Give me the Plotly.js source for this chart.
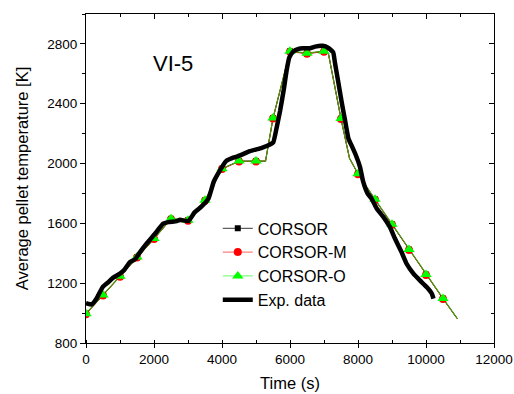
<!DOCTYPE html>
<html>
<head>
<meta charset="utf-8">
<script src="https://cdn.plot.ly/plotly-3.0.1.min.js"></script>
<style>html,body{margin:0;padding:0;background:#fff;}#chart{width:514px;height:394px;}</style>
</head>
<body>
<div id="chart"></div>
<script>
// ---- data ----
// simulation marker times (s)
const simMarkTime = [0, 500, 1000, 1500, 2000, 2500, 3000, 3500, 4000, 4500, 5000,
  5500, 6000, 6500, 7000, 7500, 8000, 8500, 9000, 9500, 10000, 10500];
// simulated pellet temperature (K) at marker times
const corsorK  = [995, 1120, 1245, 1374, 1497, 1630, 1620, 1753, 1965, 2016, 2016,
  2303, 2750, 2737, 2750, 2300, 1931, 1760, 1593, 1424, 1257, 1097];
const corsorMK = [993, 1118, 1243, 1372, 1495, 1628, 1618, 1751, 1963, 2014, 2014,
  2301, 2748, 2735, 2748, 2298, 1929, 1758, 1591, 1422, 1255, 1095];
const corsorOK = [996, 1121, 1246, 1375, 1498, 1631, 1621, 1754, 1966, 2017, 2017,
  2304, 2751, 2738, 2751, 2301, 1932, 1761, 1594, 1425, 1258, 1098];
// extra line vertices of the simulations (no marker drawn there)
const simExtraTime = [5280, 7130, 7750, 10920];
const simExtraK    = [2016, 2735, 2035, 963];

// experimental data
const expTime = [0, 170, 310, 490, 660, 800, 1000, 1130, 1290, 1440, 1590, 1780, 2030,
  2270, 2420, 2670, 2770, 3010, 3200, 3400, 3600, 3760, 3940, 4120, 4330, 4530, 4820,
  5170, 5410, 5510, 5610, 5710, 5820, 5900, 5980, 6100, 6250, 6390, 6590, 6740, 6960,
  7130, 7270, 7320, 7420, 7520, 7620, 7720, 7810, 7940, 8060, 8150, 8280, 8400, 8550,
  8750, 8940, 9090, 9280, 9430, 9630, 9820, 10020, 10170, 10220];
const expK = [1067, 1058, 1097, 1174, 1207, 1237, 1264, 1290, 1341, 1359, 1408, 1464, 1531,
  1598, 1608, 1615, 1624, 1615, 1675, 1713, 1765, 1880, 1954, 2016, 2039, 2054, 2083,
  2105, 2127, 2143, 2243, 2354, 2499, 2622, 2710, 2750, 2767, 2771, 2771, 2782, 2787,
  2773, 2744, 2677, 2544, 2410, 2288, 2166, 2121, 2054, 1976, 1880, 1800, 1765, 1700,
  1642, 1575, 1497, 1408, 1330, 1264, 1219, 1174, 1130, 1097];

const xTicks = [0, 2000, 4000, 6000, 8000, 10000, 12000];
const yTicks = [800, 1200, 1600, 2000, 2400, 2800];

// ---- build line vertex lists (markers + extra vertices, sorted by time) ----
function mergeLine(mt, mk, et, ek) {
  const pts = mt.map((t, i) => [t, mk[i]]).concat(et.map((t, i) => [t, ek[i]]));
  pts.sort((a, b) => a[0] - b[0]);
  return {x: pts.map(p => p[0]), y: pts.map(p => p[1])};
}
const lineC = mergeLine(simMarkTime, corsorK, simExtraTime, simExtraK);
const lineM = mergeLine(simMarkTime, corsorMK, simExtraTime, simExtraK);
const lineO = mergeLine(simMarkTime, corsorOK, simExtraTime, simExtraK);

const FONT = 'Arial, "Liberation Sans", sans-serif';

const traces = [
  // simulation lines
  {x: lineC.x, y: lineC.y, mode: 'lines', line: {color: '#000000', width: 1}, showlegend: false, hoverinfo: 'skip'},
  {x: lineM.x, y: lineM.y, mode: 'lines', line: {color: '#ff0000', width: 1}, showlegend: false, hoverinfo: 'skip'},
  {x: lineO.x, y: lineO.y, mode: 'lines', line: {color: '#40a010', width: 1.2}, showlegend: false, hoverinfo: 'skip'},
  // simulation markers
  {x: simMarkTime, y: corsorK, mode: 'markers', marker: {symbol: 'square', size: 6, color: '#000000'}, showlegend: false},
  {x: simMarkTime, y: corsorMK, mode: 'markers', marker: {symbol: 'circle', size: 8, color: '#ff0000'}, showlegend: false},
  {x: simMarkTime, y: corsorOK, mode: 'markers', marker: {symbol: 'triangle-up', size: 10, color: '#00ff00'}, showlegend: false},
  // experiment
  {x: expTime, y: expK, mode: 'lines', line: {color: '#000000', width: 4.5, shape: 'spline', smoothing: 0.4}, showlegend: false},
  // legend entries
  {x: [null], y: [null], name: 'CORSOR', mode: 'lines+markers', line: {color: '#606060', width: 1.2}, marker: {symbol: 'square', size: 6, color: '#000000'}},
  {x: [null], y: [null], name: 'CORSOR-M', mode: 'lines+markers', line: {color: '#ff8080', width: 1.2}, marker: {symbol: 'circle', size: 8, color: '#ff0000'}},
  {x: [null], y: [null], name: 'CORSOR-O', mode: 'lines+markers', line: {color: '#80ff80', width: 1.2}, marker: {symbol: 'triangle-up', size: 10, color: '#00ff00'}},
  {x: [null], y: [null], name: 'Exp. data', mode: 'lines', line: {color: '#000000', width: 4.5}},
  // carrier for mirrored axes
  {x: [null], y: [null], xaxis: 'x2', yaxis: 'y2', showlegend: false, mode: 'lines'}
];

const layout = {
  width: 514, height: 394,
  margin: {l: 86, r: 20, t: 14, b: 51, pad: 0},
  paper_bgcolor: '#ffffff', plot_bgcolor: '#ffffff',
  font: {family: FONT, color: '#000000'},
  showlegend: true,
  xaxis: {
    range: [0, 12000], tickvals: xTicks, ticktext: xTicks.map(String),
    ticks: 'outside', ticklen: 4, tickwidth: 1, tickcolor: '#000',
    minor: {dtick: 1000, tick0: 0, ticks: 'inside', ticklen: 3, tickwidth: 1, tickcolor: '#000'},
    showline: true, linecolor: '#000', linewidth: 1, showgrid: false, zeroline: false,
    tickfont: {size: 13.5, family: FONT},
    title: {text: 'Time (s)', font: {size: 16.5, family: FONT}, standoff: 11}
  },
  yaxis: {
    range: [800, 3000], tickvals: yTicks, ticktext: yTicks.map(String),
    ticks: 'outside', ticklen: 5, tickwidth: 1, tickcolor: '#000',
    minor: {dtick: 200, tick0: 800, ticks: 'outside', ticklen: 3, tickwidth: 1, tickcolor: '#000'},
    showline: true, linecolor: '#000', linewidth: 1, showgrid: false, zeroline: false,
    tickfont: {size: 13.5, family: FONT},
    title: {text: 'Average pellet temperature [K]', font: {size: 16.5, family: FONT}, standoff: 14}
  },
  xaxis2: {
    overlaying: 'x', side: 'top', anchor: 'y', range: [0, 12000], tickvals: xTicks,
    showticklabels: false, ticks: 'inside', ticklen: 5, tickwidth: 1, tickcolor: '#000',
    minor: {dtick: 1000, tick0: 0, ticks: 'inside', ticklen: 3, tickwidth: 1, tickcolor: '#000'},
    showline: true, linecolor: '#000', linewidth: 1, showgrid: false, zeroline: false
  },
  yaxis2: {
    overlaying: 'y', side: 'right', anchor: 'x', range: [800, 3000], tickvals: yTicks,
    showticklabels: false, ticks: 'inside', ticklen: 5, tickwidth: 1, tickcolor: '#000',
    minor: {dtick: 200, tick0: 800, ticks: 'inside', ticklen: 3, tickwidth: 1, tickcolor: '#000'},
    showline: true, linecolor: '#000', linewidth: 1, showgrid: false, zeroline: false
  },
  legend: {
    x: 0.323, y: 0.4, xanchor: 'left', yanchor: 'top',
    bgcolor: 'rgba(0,0,0,0)', borderwidth: 0,
    font: {size: 16, family: FONT}, tracegroupgap: 0
  },
  annotations: [{
    x: 2560, y: 2668, xref: 'x', yref: 'y', text: 'VI-5', showarrow: false,
    font: {size: 22, family: FONT}, xanchor: 'center', yanchor: 'middle'
  }]
};

Plotly.newPlot('chart', traces, layout, {staticPlot: true, displayModeBar: false});
</script>
</body>
</html>
